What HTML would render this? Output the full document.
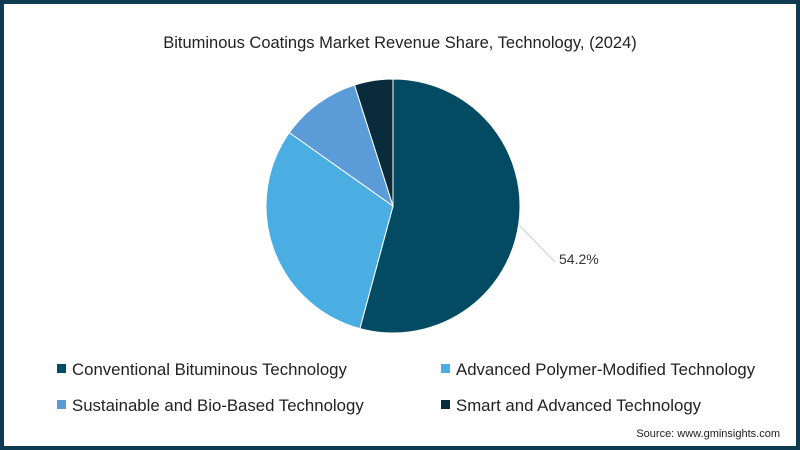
<!DOCTYPE html>
<html><head><meta charset="utf-8"><style>
html,body{margin:0;padding:0;background:#fff}
#frame{position:absolute;left:0;top:0;width:792px;height:442px;border:4px solid #0f3b52;background:#fff;font-family:"Liberation Sans",sans-serif;color:#222}
</style></head><body>
<div id="frame">
<svg id="chart" width="792" height="442" viewBox="4 4 792 442" style="position:absolute;left:0;top:0">
<text x="400" y="48" text-anchor="middle" font-size="16.5" fill="#222" font-family="Liberation Sans, sans-serif">Bituminous Coatings Market Revenue Share, Technology, (2024)</text>
<g id="slices"></g>
<line x1="519" y1="225" x2="555" y2="262" stroke="#ccc" stroke-width="1"/>
<text x="559" y="264" font-size="14" fill="#333" font-family="Liberation Sans, sans-serif">54.2%</text>
<g id="legend"></g>
<text x="780" y="437" text-anchor="end" font-size="11" fill="#222" font-family="Liberation Sans, sans-serif">Source: www.gminsights.com</text>
</svg>
</div>
<script>
const categories=["Conventional Bituminous Technology","Advanced Polymer-Modified Technology","Sustainable and Bio-Based Technology","Smart and Advanced Technology"];
const values=[54.2,30.6,10.3,4.9];
const colors=["#034b62","#4aaee2","#5b9cd8","#0a2b3c"];
const NS="http://www.w3.org/2000/svg";
const cx=393,cy=206,r=127;
const total=values.reduce((a,b)=>a+b,0);
const g=document.getElementById('slices');
let acc=0;
function pt(f){const a=f*2*Math.PI;return [cx+r*Math.sin(a),cy-r*Math.cos(a)];}
values.forEach((v,i)=>{
  const s=acc/total,e=(acc+v)/total;acc+=v;
  const [x1,y1]=pt(s),[x2,y2]=pt(e);
  const p=document.createElementNS(NS,'path');
  p.setAttribute('d',`M${cx},${cy}L${x1},${y1}A${r},${r} 0 ${e-s>0.5?1:0} 1 ${x2},${y2}Z`);
  p.setAttribute('fill',colors[i]);p.setAttribute('stroke','#fff');p.setAttribute('stroke-width','1');
  
  
  g.appendChild(p);
});
const lg=document.getElementById('legend');
const pos=[[57,369],[441,369],[57,405],[441,405]];
categories.forEach((c,i)=>{
  const it=document.createElementNS(NS,'g');
  
  
  const rc=document.createElementNS(NS,'rect');
  rc.setAttribute('x',pos[i][0]);rc.setAttribute('y',pos[i][1]-5);rc.setAttribute('width',9);rc.setAttribute('height',9);rc.setAttribute('fill',colors[i]);
  const t=document.createElementNS(NS,'text');
  t.setAttribute('x',pos[i][0]+15);t.setAttribute('y',pos[i][1]+6);t.setAttribute('font-size','16.8');t.setAttribute('fill','#222');
  t.setAttribute('font-family','Liberation Sans, sans-serif');
  t.textContent=c;
  it.appendChild(rc);it.appendChild(t);lg.appendChild(it);
});
</script>
</body></html>
